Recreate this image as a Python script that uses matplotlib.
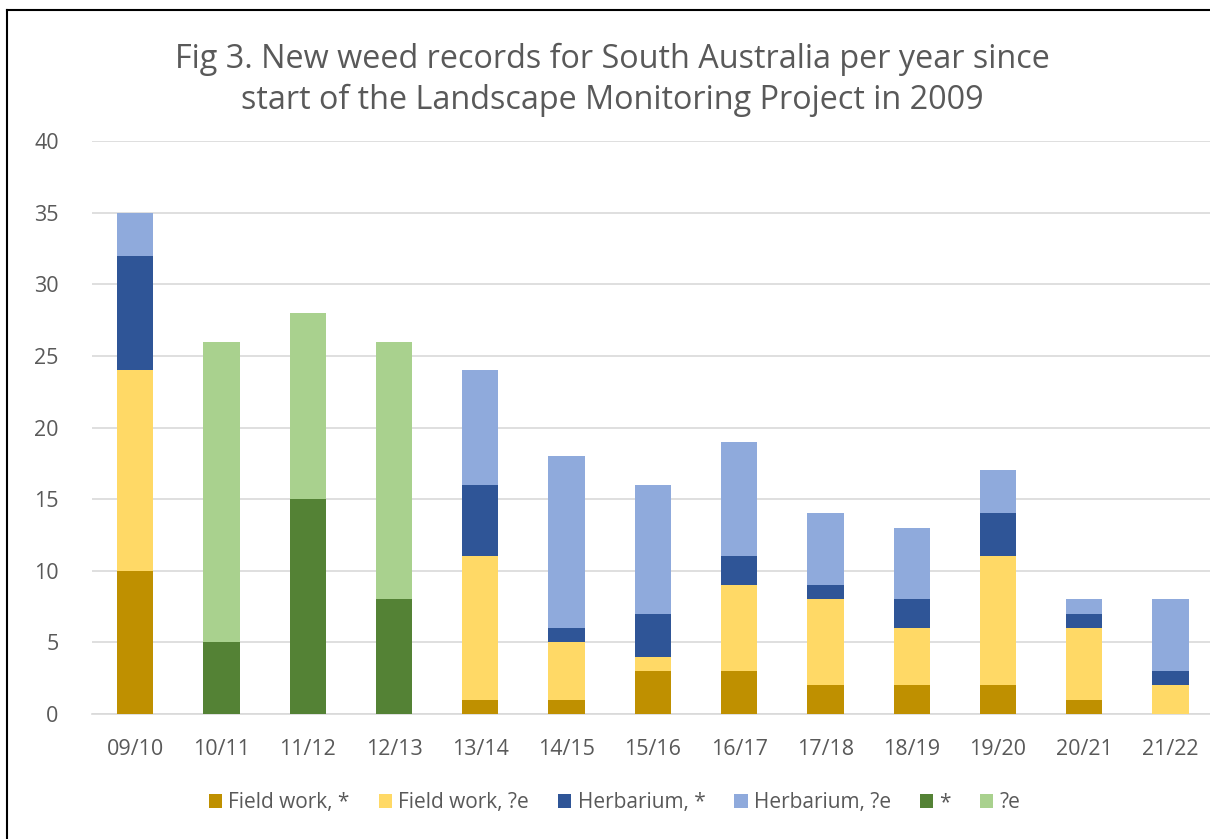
import numpy as np
import matplotlib.pyplot as plt
from matplotlib.lines import Line2D

# ----------------------------------------------------------------------------
# Data
# ----------------------------------------------------------------------------
years = ['09/10', '10/11', '11/12', '12/13', '13/14', '14/15', '15/16',
         '16/17', '17/18', '18/19', '19/20', '20/21', '21/22']

field_star = [10, 0, 0, 0, 1, 1, 3, 3, 2, 2, 2, 1, 0]
field_e = [14, 0, 0, 0, 10, 4, 1, 6, 6, 4, 9, 5, 2]
herb_star = [8, 0, 0, 0, 5, 1, 3, 2, 1, 2, 3, 1, 1]
herb_e = [3, 0, 0, 0, 8, 12, 9, 8, 5, 5, 3, 1, 5]
star = [0, 5, 15, 8, 0, 0, 0, 0, 0, 0, 0, 0, 0]
e_only = [0, 21, 13, 18, 0, 0, 0, 0, 0, 0, 0, 0, 0]

series = [
    ('Field work, *', field_star, '#BF9000'),
    ('Field work, ?e', field_e, '#FFD966'),
    ('Herbarium, *', herb_star, '#2F5597'),
    ('Herbarium, ?e', herb_e, '#8FAADC'),
    ('*', star, '#548235'),
    ('?e', e_only, '#A9D18E'),
]

# ----------------------------------------------------------------------------
# Plot
# ----------------------------------------------------------------------------
plt.rcParams['font.family'] = ['Open Sans', 'DejaVu Sans']
grey = '#595959'

fig = plt.figure(figsize=(12.10, 8.39), dpi=100)
ax = fig.add_axes([92 / 1210, 125 / 839, 1 - 92 / 1210, 573 / 839])

x = np.arange(len(years))
bottom = np.zeros(len(years))
for label, vals, col in series:
    vals = np.array(vals, dtype=float)
    ax.bar(x, vals, 0.42, bottom=bottom, color=col, label=label, zorder=3)
    bottom += vals

ax.set_ylim(0, 40)
ax.set_yticks(range(0, 41, 5))
ax.set_xlim(-0.5, (1210 - 135) / 86.3)
ax.set_xticks(x)
ax.set_xticklabels(years)
ax.tick_params(axis='both', length=0, labelsize=15.5, colors=grey)
ax.tick_params(axis='x', pad=18)
ax.tick_params(axis='y', pad=24)
ax.grid(axis='y', color='#D9D9D9', linewidth=1.2, zorder=0)
for side in ['top', 'right', 'left']:
    ax.spines[side].set_visible(False)
ax.spines['bottom'].set_color('#D9D9D9')
ax.spines['bottom'].set_linewidth(1.2)

# Title
fig.text(0.506, 0.905, 'Fig 3. New weed records for South Australia per year since\n'
         'start of the Landscape Monitoring Project in 2009',
         ha='center', va='center', fontsize=23.3, color=grey, linespacing=1.33)

# Legend
handles, labels = ax.get_legend_handles_labels()
fig.legend(handles, labels, loc='center', bbox_to_anchor=(0.508, 0.043), ncol=6,
           frameon=False, fontsize=15, labelcolor=grey, handlelength=0.63,
           handleheight=0.63, handletextpad=0.3, columnspacing=1.4)

# Outer border (left and top visible)
fig.add_artist(Line2D([7 / 1210, 7 / 1210], [0, 1 - 10 / 839], color='black', lw=1.5))
fig.add_artist(Line2D([7 / 1210, 1], [1 - 10 / 839, 1 - 10 / 839], color='black', lw=1.5))

fig.savefig('out.png', dpi=100)
